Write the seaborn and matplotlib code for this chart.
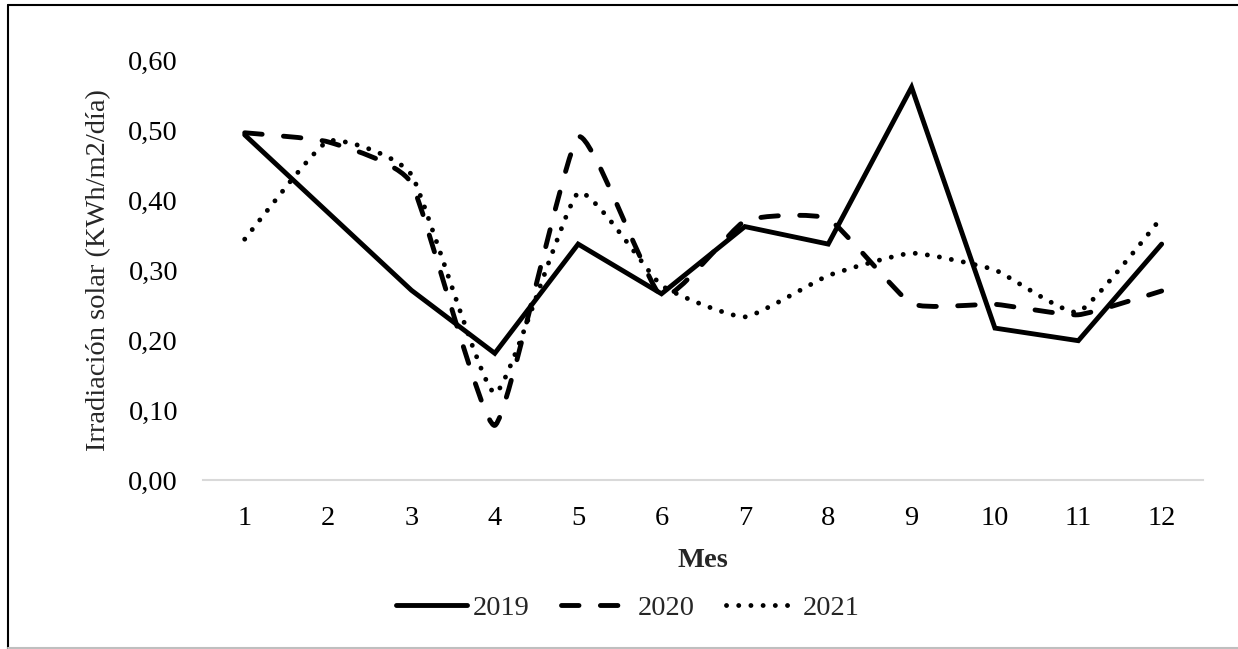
import numpy as np
import pandas as pd
import matplotlib
matplotlib.use("Agg")
import matplotlib.pyplot as plt
import seaborn as sns
from matplotlib.path import Path
from matplotlib.patches import PathPatch
from matplotlib.lines import Line2D
from matplotlib.ticker import FuncFormatter

months = [1, 2, 3, 4, 5, 6, 7, 8, 9, 10, 11, 12]
y2019 = [0.493, 0.382, 0.271, 0.181, 0.337, 0.266, 0.362, 0.337, 0.561, 0.217, 0.199, 0.337]
y2020 = [0.496, 0.483, 0.424, 0.078, 0.490, 0.262, 0.370, 0.373, 0.252, 0.251, 0.236, 0.270]
y2021 = [0.344, 0.484, 0.436, 0.124, 0.410, 0.278, 0.233, 0.292, 0.324, 0.300, 0.240, 0.375]
yticks = [0.0, 0.1, 0.2, 0.3, 0.4, 0.5, 0.6]
series_names = ["2019", "2020", "2021"]

sns.set_theme(style="white")
plt.rcParams["font.family"] = ["Liberation Serif", "DejaVu Serif"]

FS = 20.5
fig = plt.figure(figsize=(12.38, 6.49), dpi=100)
ax = fig.add_axes([0.164, 0.2604, 0.808, 0.6472])

LW = 3.5
dash_style = (0, (3.6, 4.4))
dot_style = (0, (0.01, 2.5))
TENSION = 0.075

df = pd.DataFrame({"Mes": months, "valor": y2019})
sns.lineplot(data=df, x="Mes", y="valor", ax=ax, color="black", linewidth=LW,
             solid_capstyle="round", solid_joinstyle="miter")


def smooth_patch(xs, ys, ls):
    n = len(xs)
    verts = [(xs[0], ys[0])]
    codes = [Path.MOVETO]
    for i in range(n - 1):
        p0 = i - 1 if i > 0 else i
        p3 = i + 2 if i + 2 < n else i + 1
        c1 = (xs[i] + (xs[i + 1] - xs[p0]) * TENSION, ys[i] + (ys[i + 1] - ys[p0]) * TENSION)
        c2 = (xs[i + 1] - (xs[p3] - xs[i]) * TENSION, ys[i + 1] - (ys[p3] - ys[i]) * TENSION)
        verts += [c1, c2, (xs[i + 1], ys[i + 1])]
        codes += [Path.CURVE4, Path.CURVE4, Path.CURVE4]
    patch = PathPatch(Path(verts, codes), fill=False, edgecolor="black",
                      linewidth=LW, linestyle=ls, capstyle="round", joinstyle="round")
    ax.add_patch(patch)


smooth_patch(months, y2020, dash_style)
smooth_patch(months, y2021, dot_style)

ax.set_xlim(0.5, 12.5)
ax.set_ylim(0, 0.6)
ax.set_xticks(months)
ax.set_xticklabels([str(m) for m in months])
ax.set_yticks(yticks)
ax.yaxis.set_major_formatter(FuncFormatter(lambda v, p: f"{v:.2f}".replace(".", ",")))
ax.tick_params(axis="both", length=0, labelsize=FS, colors="black")
ax.tick_params(axis="x", pad=19)
ax.tick_params(axis="y", pad=18)
for s in ["top", "right", "left"]:
    ax.spines[s].set_visible(False)
ax.spines["bottom"].set_color("#d9d9d9")
ax.spines["bottom"].set_linewidth(1.5)
ax.grid(False)

ax.set_xlabel("Mes", fontsize=FS, fontweight="bold", labelpad=12)
ax.set_ylabel("Irradiación solar (KWh/m2/día)", fontsize=FS, labelpad=12)

handles = [
    Line2D([0], [0], color="black", lw=LW, solid_capstyle="round"),
    Line2D([0], [0], color="black", lw=LW, linestyle=dash_style, dash_capstyle="round"),
    Line2D([0], [0], color="black", lw=LW, linestyle=dot_style, dash_capstyle="round"),
]
fig.legend(handles, series_names, loc="center", bbox_to_anchor=(0.507, 0.063), ncol=3,
           frameon=False, fontsize=FS, handlelength=2.5, handletextpad=0.2,
           columnspacing=1.1)

# outer chart border
fig.add_artist(Line2D([8 / 1238, 8 / 1238], [0, 1 - 5 / 649], transform=fig.transFigure,
                      color="black", lw=1.5))
fig.add_artist(Line2D([8 / 1238, 1], [1 - 5 / 649, 1 - 5 / 649], transform=fig.transFigure,
                      color="black", lw=1.5))
fig.add_artist(Line2D([8 / 1238, 1], [1.5 / 649, 1.5 / 649], transform=fig.transFigure,
                      color="#bfbfbf", lw=1.5))

fig.savefig("out.png", dpi=100)
